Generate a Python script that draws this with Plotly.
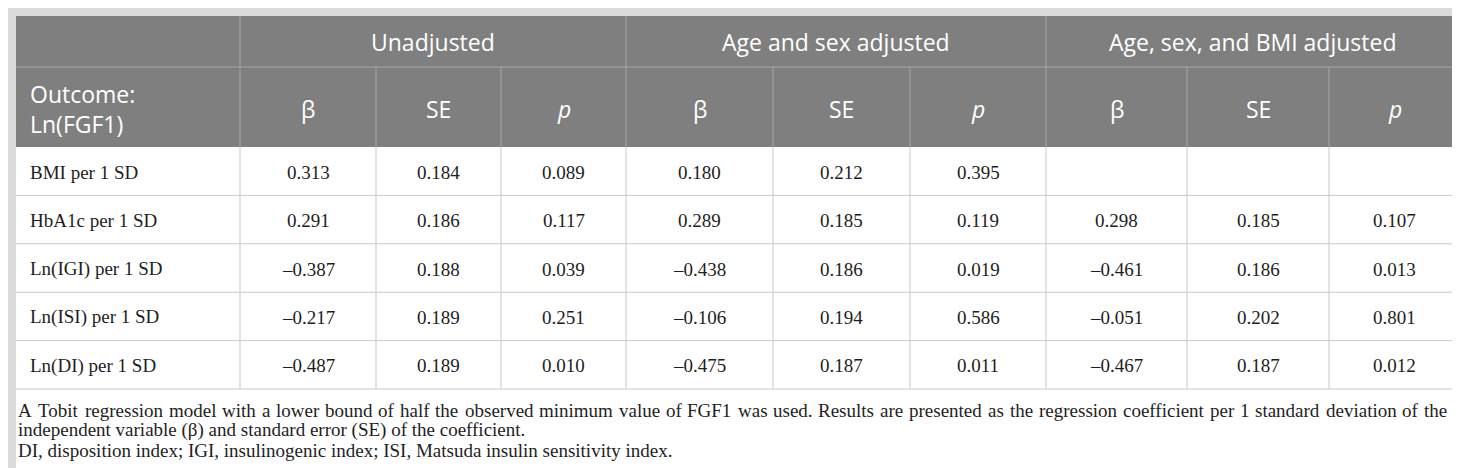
import plotly.graph_objects as go

# ---- table content ----
groups = ["Unadjusted", "Age and sex adjusted", "Age, sex, and BMI adjusted"]
stat_labels = ["β", "SE", "<i>p</i>"]
outcome_label = "Outcome:<br>Ln(FGF1)"
row_labels = ["BMI per 1 SD", "HbA1c per 1 SD", "Ln(IGI) per 1 SD", "Ln(ISI) per 1 SD", "Ln(DI) per 1 SD"]

unadj_beta = ["0.313", "0.291", "–0.387", "–0.217", "–0.487"]
unadj_se = ["0.184", "0.186", "0.188", "0.189", "0.189"]
unadj_p = ["0.089", "0.117", "0.039", "0.251", "0.010"]

agesex_beta = ["0.180", "0.289", "–0.438", "–0.106", "–0.475"]
agesex_se = ["0.212", "0.185", "0.186", "0.194", "0.187"]
agesex_p = ["0.395", "0.119", "0.019", "0.586", "0.011"]

bmi_beta = ["", "0.298", "–0.461", "–0.051", "–0.467"]
bmi_se = ["", "0.185", "0.186", "0.202", "0.187"]
bmi_p = ["", "0.107", "0.013", "0.801", "0.012"]

# first footnote line is justified in the original
footnote_line1 = (
    "A Tobit regression model with a lower bound of half the observed minimum value of FGF1 "
    "was used. Results are presented as the regression coefficient per 1 standard deviation of the"
)
footnote_rest = [
    "independent variable (β) and standard error (SE) of the coefficient.",
    "DI, disposition index; IGI, insulinogenic index; ISI, Matsuda insulin sensitivity index.",
]

# ---- geometry (pixels) ----
W, H = 1460, 468
col_edges = [8, 232, 368, 493, 618, 765, 902, 1038, 1179, 1321, 1452]
head_top, head_mid, head_bot = 8, 59, 139
body_bot = 381
panel_bot = 460
n_rows = len(row_labels)
row_h = (body_bot - head_bot) / n_rows
foot_x0, foot_x1 = 9, 1438
foot_y0, foot_dy = 402, 20
FOOT_SIZE = 19

HEAD_BG = "#7f7f7f"
HEAD_LINE = "#a6a6a6"
BODY_LINE = "#c9c9c9"
FRAME = "#dadbdd"
TXT = "#1e1e1e"
SANS = "'Open Sans', 'Noto Sans', sans-serif"
SERIF = "'Liberation Serif', 'DejaVu Serif', serif"

# Times / Liberation Serif advance widths (1/1000 em), used to justify line 1
_TIMES = dict(zip("abcdefghijklmnopqrstuvwxyz",
                  [444, 500, 444, 500, 444, 333, 500, 500, 278, 278, 500, 278, 778,
                   500, 500, 500, 500, 333, 389, 278, 500, 500, 722, 500, 500, 444]))
_TIMES.update(zip("ABCDEFGHIJKLMNOPQRSTUVWXYZ",
                  [722, 667, 667, 722, 611, 556, 722, 722, 333, 389, 722, 611, 889,
                   722, 722, 556, 722, 667, 556, 611, 722, 722, 944, 722, 722, 611]))
_TIMES.update({d: 500 for d in "0123456789"})
_TIMES.update({".": 250, ",": 250, " ": 250, ";": 278, "(": 333, ")": 333})


def text_width(s, size):
    return sum(_TIMES.get(ch, 500) for ch in s) * size / 1000


fig = go.Figure()
shapes = []
annos = []


def line(x0, y0, x1, y1, color):
    shapes.append(dict(type="line", xref="x", yref="y", x0=x0, y0=y0, x1=x1, y1=y1,
                       line=dict(color=color, width=1)))


def text(x, y, s, size, color, font, anchor="center"):
    annos.append(dict(x=x, y=y, xref="x", yref="y", text=s, showarrow=False,
                      xanchor=anchor, yanchor="middle", align="left", borderpad=0,
                      font=dict(family=font, size=size, color=color)))


# panel and header backgrounds
shapes.append(dict(type="rect", xref="x", yref="y", x0=col_edges[0], y0=head_top,
                   x1=col_edges[-1], y1=panel_bot, fillcolor="white", line_width=0, layer="below"))
shapes.append(dict(type="rect", xref="x", yref="y", x0=col_edges[0], y0=head_top,
                   x1=col_edges[-1], y1=head_bot, fillcolor=HEAD_BG, line_width=0, layer="below"))

# header grid
line(col_edges[0], head_mid, col_edges[-1], head_mid, HEAD_LINE)
for i in (1, 4, 7):
    line(col_edges[i], head_top, col_edges[i], head_bot, HEAD_LINE)
for i in (2, 3, 5, 6, 8, 9):
    line(col_edges[i], head_mid, col_edges[i], head_bot, HEAD_LINE)

# body grid
for r in range(1, n_rows + 1):
    y = head_bot + r * row_h
    line(col_edges[0], y, col_edges[-1], y, BODY_LINE)
for x in col_edges[1:-1]:
    line(x, head_bot, x, body_bot, BODY_LINE)

# header text
for g, name in enumerate(groups):
    x0, x1 = col_edges[1 + 3 * g], col_edges[4 + 3 * g]
    text((x0 + x1) / 2, (head_top + head_mid) / 2, name, 23, "white", SANS)
    for k, lab in enumerate(stat_labels):
        c = 1 + 3 * g + k
        text((col_edges[c] + col_edges[c + 1]) / 2, (head_mid + head_bot) / 2 + 2, lab, 23, "white", SANS)
text(col_edges[0] + 13, (head_mid + head_bot) / 2 + 2, outcome_label, 23, "white", SANS, anchor="left")

# body text
columns = [unadj_beta, unadj_se, unadj_p, agesex_beta, agesex_se, agesex_p, bmi_beta, bmi_se, bmi_p]
for r, lab in enumerate(row_labels):
    yc = head_bot + (r + 0.5) * row_h + 1
    text(col_edges[0] + 13, yc, lab, 19, TXT, SERIF, anchor="left")
    for c, vals in enumerate(columns):
        if vals[r]:
            text((col_edges[c + 1] + col_edges[c + 2]) / 2, yc, vals[r], 19, TXT, SERIF)

# footnotes: justify the first line word by word
words = footnote_line1.split()
natural = sum(text_width(w, FOOT_SIZE) for w in words)
gap = (foot_x1 - foot_x0 - natural) / (len(words) - 1)
x = foot_x0
for w in words:
    text(x, foot_y0, w, FOOT_SIZE, TXT, SERIF, anchor="left")
    x += text_width(w, FOOT_SIZE) + gap
for i, s in enumerate(footnote_rest):
    text(foot_x0, foot_y0 + (i + 1) * foot_dy, s, FOOT_SIZE, TXT, SERIF, anchor="left")

fig.update_layout(
    width=W, height=H,
    margin=dict(l=0, r=0, t=0, b=0),
    paper_bgcolor=FRAME, plot_bgcolor=FRAME,
    xaxis=dict(range=[0, W], visible=False, fixedrange=True),
    yaxis=dict(range=[H, 0], visible=False, fixedrange=True),
    shapes=shapes, annotations=annos, showlegend=False,
)

fig.write_html("out.html")
